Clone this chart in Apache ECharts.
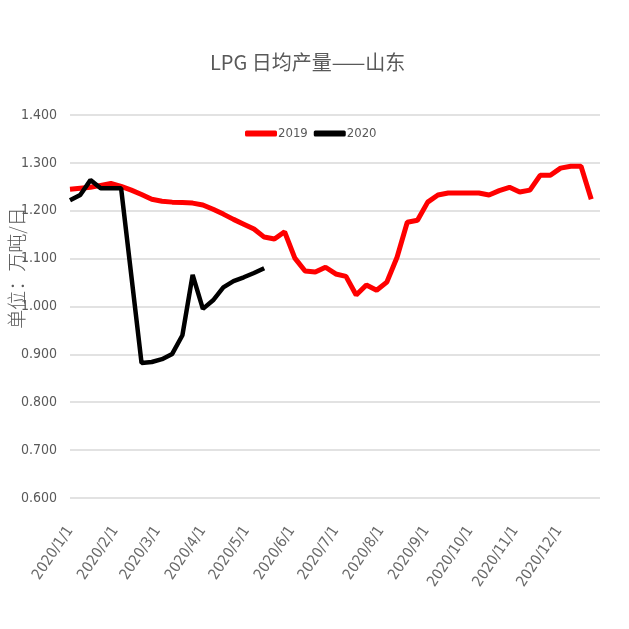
<!DOCTYPE html>
<html>
<head>
<meta charset="utf-8">
<script src="https://cdn.jsdelivr.net/npm/echarts@6/dist/echarts.min.js"></script>
<style>
  html, body { margin: 0; padding: 0; background: #fff; }
  #chart { width: 629px; height: 629px; }
</style>
</head>
<body>
<div id="chart"></div>
<script>
// 周度日期（2019 数据按周序号对齐到 2020 年的日期轴上）
var weekDates = [
  '2020-01-01','2020-01-08','2020-01-15','2020-01-22','2020-01-29',
  '2020-02-05','2020-02-12','2020-02-19','2020-02-26',
  '2020-03-04','2020-03-11','2020-03-18','2020-03-25',
  '2020-04-01','2020-04-08','2020-04-15','2020-04-22','2020-04-29',
  '2020-05-06','2020-05-13','2020-05-20','2020-05-27',
  '2020-06-03','2020-06-10','2020-06-17','2020-06-24',
  '2020-07-01','2020-07-08','2020-07-15','2020-07-22','2020-07-29',
  '2020-08-05','2020-08-12','2020-08-19','2020-08-26',
  '2020-09-02','2020-09-09','2020-09-16','2020-09-23','2020-09-30',
  '2020-10-07','2020-10-14','2020-10-21','2020-10-28',
  '2020-11-04','2020-11-11','2020-11-18','2020-11-25',
  '2020-12-02','2020-12-09','2020-12-16','2020-12-23'
]
// 2019 年
var data2019 = [
  1.245, 1.247, 1.249, 1.253, 1.257, 1.251, 1.243, 1.234, 1.224, 1.220,
  1.218, 1.217, 1.216, 1.212, 1.203, 1.193, 1.182, 1.172, 1.162, 1.145,
  1.141, 1.156, 1.101, 1.074, 1.072, 1.082, 1.068, 1.063, 1.024, 1.045,
  1.034, 1.051, 1.103, 1.176, 1.180, 1.218, 1.233, 1.237, 1.237, 1.237,
  1.237, 1.233, 1.242, 1.249, 1.239, 1.243, 1.274, 1.274, 1.289, 1.293,
  1.293, 1.224
]
// 2020 年（第 7 周无数据）
var data2020 = [
  1.222, 1.233, 1.264, 1.247, 1.247, 1.247, null, 0.882, 0.884, 0.890,
  0.901, 0.940, 1.066, 0.995, 1.013, 1.040, 1.053, 1.061, 1.070, 1.080
]
var legendNames = ['2019', '2020']
var titleText = 'LPG 日均产量——山东'
var unitText = '单位：万吨/日'

var grayText = '#595959'
var narrowFont = "'Liberation Sans Narrow', 'DejaVu Sans Condensed', 'Noto Sans CJK SC', sans-serif"

function pairs(vals) {
  var out = []
  vals.forEach(function (v, i) {
    out.push([weekDates[i], v])
  })
  return out
}

var chart = echarts.init(document.getElementById('chart'))
var option = {
  backgroundColor: '#ffffff',
  animation: false,
  title: {
    text: titleText,
    left: 205,
    top: 47,
    textStyle: {
      fontSize: 20,
      fontWeight: 'normal',
      color: grayText,
      fontFamily: "'Noto Sans CJK SC', sans-serif"
    }
  },
  legend: {
    data: legendNames,
    left: 240,
    top: 122,
    icon: 'roundRect',
    itemWidth: 32,
    itemHeight: 6,
    itemGap: 6,
    textStyle: {
      fontSize: 13,
      color: grayText,
      fontFamily: narrowFont,
      padding: [0, 0, 0, -4]
    }
  },
  graphic: [{
    type: 'text',
    x: 17,
    y: 268,
    rotation: Math.PI / 2,
    style: {
      text: unitText,
      fill: grayText,
      fontSize: 19,
      fontWeight: 300,
      fontFamily: "'Noto Sans CJK SC', sans-serif",
      align: 'center',
      verticalAlign: 'middle'
    }
  }],
  grid: {
    left: 70,
    right: 29,
    top: 115,
    bottom: 131
  },
  xAxis: {
    type: 'time',
    min: '2020-01-01',
    max: '2020-12-29',
    minInterval: 28 * 86400000,
    maxInterval: 31 * 86400000,
    axisLine: { show: false },
    axisTick: { show: false },
    splitLine: { show: false },
    axisLabel: {
      rotate: 56,
      margin: 30,
      fontSize: 15,
      color: '#6a6a6a',
      fontFamily: narrowFont,
      showMaxLabel: false,
      formatter: function (v) {
        var d = new Date(v)
        return d.getFullYear() + '/' + (d.getMonth() + 1) + '/' + d.getDate()
      }
    }
  },
  yAxis: {
    type: 'value',
    min: 0.6,
    max: 1.4,
    interval: 0.1,
    axisLine: { show: false },
    axisTick: { show: false },
    splitLine: {
      show: true,
      lineStyle: { color: '#d9d9d9', width: 1.5 }
    },
    axisLabel: {
      margin: 13,
      fontSize: 14,
      color: grayText,
      fontFamily: narrowFont,
      formatter: function (v) {
        return v.toFixed(3)
      }
    }
  },
  series: [
    {
      name: legendNames[0],
      type: 'line',
      data: pairs(data2019),
      showSymbol: false,
      symbol: 'none',
      itemStyle: { color: '#ff0000' },
      lineStyle: { color: '#ff0000', width: 5 },
      z: 2
    },
    {
      name: legendNames[1],
      type: 'line',
      data: pairs(data2020),
      connectNulls: true,
      showSymbol: false,
      symbol: 'none',
      itemStyle: { color: '#000000' },
      lineStyle: { color: '#000000', width: 4.5 },
      z: 3
    }
  ]
}
chart.setOption(option)
</script>
</body>
</html>
